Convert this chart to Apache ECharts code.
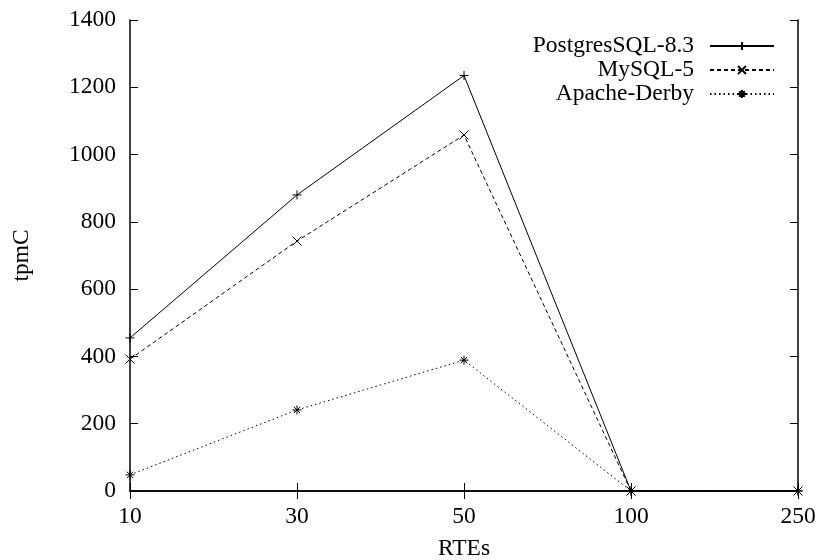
<!DOCTYPE html>
<html>
<head>
<meta charset="utf-8">
<script src="https://cdn.jsdelivr.net/npm/echarts@6/dist/echarts.min.js"></script>
<style>html,body{margin:0;padding:0;background:#fff;}#c{width:820px;height:560px;}</style>
</head>
<body>
<div id="c"></div>
<script>
const categories = ['10', '30', '50', '100', '250'];
const seriesNames = ['PostgresSQL-8.3', 'MySQL-5', 'Apache-Derby'];
const postgres = [455, 880, 1235, 0, 0];
const mysql = [392, 743, 1058, 0, 0];
const derby = [48, 241, 389, 0, 0];
const yTicks = [0, 200, 400, 600, 800, 1000, 1200, 1400];

const FONT = 'Liberation Serif';
const FS = 23.5;
const PLUS = 'path://M0,5L10,5M5,0L5,10';
const CROSS = 'path://M0,0L10,10M10,0L0,10';
const STAR = 'path://M0,5L10,5M5,0L5,10M1.5,1.5L8.5,8.5M8.5,1.5L1.5,8.5';

const chart = echarts.init(document.getElementById('c'), null, {renderer: 'canvas'});

function mk(name, data, type, sym) {
  return {
    name: name, type: 'line', data: data,
    xAxisIndex: 0, yAxisIndex: 0,
    symbol: sym, symbolSize: 9,
    lineStyle: {color: '#000', width: 1, type: type},
    itemStyle: {color: '#000', borderColor: '#000', borderWidth: 1},
    emphasis: {disabled: true},
    z: 3
  };
}

const axisLine = {show: true, lineStyle: {color: '#000', width: 1.5}};
const tick = {show: true, inside: true, length: 8, lineStyle: {color: '#000', width: 1}};

chart.setOption({
  animation: false,
  backgroundColor: '#fff',
  textStyle: {fontFamily: FONT, color: '#000'},
  grid: {left: 130, right: 22, top: 20, bottom: 69, containLabel: false, outerBoundsMode: 'none'},
  legend: {
    orient: 'vertical', right: 45, top: 34, padding: 0,
    align: 'right', itemGap: 0, itemWidth: 64, itemHeight: 10,
    textStyle: {fontFamily: FONT, fontSize: FS, color: '#000', lineHeight: 22, padding: [0, 11, 0, 0]},
    data: seriesNames
  },
  xAxis: [{
    type: 'category', data: categories, boundaryGap: false, position: 'bottom',
    name: 'RTEs', nameLocation: 'middle', nameGap: 46,
    nameTextStyle: {fontFamily: FONT, fontSize: FS, color: '#000'},
    axisLine: axisLine, axisTick: Object.assign({alignWithLabel: true}, tick),
    axisLabel: {fontFamily: FONT, fontSize: FS, color: '#000', margin: 14},
    splitLine: {show: false}
  }, {
    type: 'category', data: categories, boundaryGap: false, position: 'top',
    axisLine: axisLine, axisTick: tick, axisLabel: {show: false}, splitLine: {show: false}
  }],
  yAxis: [{
    type: 'value', min: 0, max: 1400, interval: 200, position: 'left',
    name: 'tpmC', nameLocation: 'middle', nameRotate: 90, nameGap: 96,
    nameTextStyle: {fontFamily: FONT, fontSize: FS, color: '#000'},
    axisLine: axisLine, axisTick: tick,
    axisLabel: {fontFamily: FONT, fontSize: FS, color: '#000', margin: 14,
      formatter: function (v) { return yTicks.indexOf(v) >= 0 ? String(v) : ''; }},
    splitLine: {show: false}
  }, {
    type: 'value', min: 0, max: 1400, interval: 200, position: 'right',
    axisLine: axisLine, axisTick: tick, axisLabel: {show: false}, splitLine: {show: false}
  }],
  series: [
    mk(seriesNames[0], postgres, 'solid', PLUS),
    mk(seriesNames[1], mysql, [4, 3], CROSS),
    mk(seriesNames[2], derby, [1.5, 3], STAR)
  ]
});
</script>
</body>
</html>
